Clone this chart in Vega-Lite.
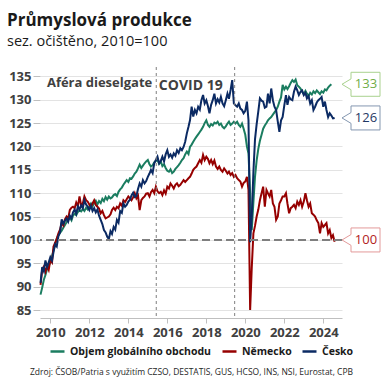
{
  "$schema": "https://vega.github.io/schema/vega-lite/v6.json",
  "width": 302,
  "height": 251,
  "autosize": {"type": "none"},
  "padding": {"left": 40, "top": 67, "right": 48, "bottom": 72},
  "background": "white",
  "config": {
    "font": "Open Sans",
    "view": {"stroke": null},
    "axis": {"labelOverlap": false},
    "axisY": {
      "labelOverlap": false,
      "grid": true,
      "gridColor": "#e3e3e3",
      "domain": false,
      "tickColor": "#bfbfbf",
      "tickSize": 7,
      "labelPadding": 2,
      "labelFontSize": 13,
      "labelFontWeight": "bold",
      "labelColor": "#404040"
    }
  },
  "title": {
    "text": "Průmyslová produkce",
    "subtitle": "sez. očištěno, 2010=100",
    "anchor": "start",
    "frame": "group",
    "dx": -33,
    "offset": 17,
    "fontSize": 17,
    "fontWeight": "bold",
    "color": "#1a1a1a",
    "subtitleFontSize": 14.5,
    "subtitleColor": "#1a1a1a",
    "subtitlePadding": 5
  },
  "datasets": {
    "prod": [
      {"d":"2009-07-01","obchod":88.3,"nemecko":90.4,"cesko":90.8},
      {"d":"2009-08-01","obchod":89.8,"nemecko":93.6,"cesko":94.2},
      {"d":"2009-09-01","obchod":91.5,"nemecko":94.3,"cesko":93.3},
      {"d":"2009-10-01","obchod":92.5,"nemecko":93.2,"cesko":95.6},
      {"d":"2009-11-01","obchod":93.8,"nemecko":94.4,"cesko":94.2},
      {"d":"2009-12-01","obchod":94.5,"nemecko":93.6,"cesko":95.2},
      {"d":"2010-01-01","obchod":95.2,"nemecko":95.7,"cesko":96.3},
      {"d":"2010-02-01","obchod":96.5,"nemecko":95.2,"cesko":95.6},
      {"d":"2010-03-01","obchod":97.8,"nemecko":98.6,"cesko":97.4},
      {"d":"2010-04-01","obchod":99.0,"nemecko":99.4,"cesko":99.1},
      {"d":"2010-05-01","obchod":100.3,"nemecko":100.3,"cesko":98.6},
      {"d":"2010-06-01","obchod":101.0,"nemecko":101.4,"cesko":100.8},
      {"d":"2010-07-01","obchod":101.5,"nemecko":102.2,"cesko":101.6},
      {"d":"2010-08-01","obchod":102.0,"nemecko":103.6,"cesko":104.4},
      {"d":"2010-09-01","obchod":102.6,"nemecko":103.1,"cesko":103.5},
      {"d":"2010-10-01","obchod":103.2,"nemecko":104.4,"cesko":104.1},
      {"d":"2010-11-01","obchod":103.8,"nemecko":105.0,"cesko":104.6},
      {"d":"2010-12-01","obchod":104.3,"nemecko":104.6,"cesko":103.9},
      {"d":"2011-01-01","obchod":104.8,"nemecko":106.4,"cesko":105.2},
      {"d":"2011-02-01","obchod":104.2,"nemecko":106.9,"cesko":104.6},
      {"d":"2011-03-01","obchod":105.2,"nemecko":107.1,"cesko":105.9},
      {"d":"2011-04-01","obchod":105.6,"nemecko":106.8,"cesko":106.5},
      {"d":"2011-05-01","obchod":105.3,"nemecko":108.0,"cesko":105.6},
      {"d":"2011-06-01","obchod":106.0,"nemecko":107.2,"cesko":107.2},
      {"d":"2011-07-01","obchod":106.3,"nemecko":109.3,"cesko":106.5},
      {"d":"2011-08-01","obchod":106.1,"nemecko":107.4,"cesko":107.4},
      {"d":"2011-09-01","obchod":106.6,"nemecko":107.8,"cesko":106.8},
      {"d":"2011-10-01","obchod":106.2,"nemecko":109.3,"cesko":108.5},
      {"d":"2011-11-01","obchod":106.9,"nemecko":108.5,"cesko":107.6},
      {"d":"2011-12-01","obchod":106.5,"nemecko":108.2,"cesko":107.1},
      {"d":"2012-01-01","obchod":107.2,"nemecko":107.6,"cesko":106.4},
      {"d":"2012-02-01","obchod":107.8,"nemecko":107.1,"cesko":107.3},
      {"d":"2012-03-01","obchod":107.2,"nemecko":107.8,"cesko":106.2},
      {"d":"2012-04-01","obchod":107.9,"nemecko":108.5,"cesko":106.8},
      {"d":"2012-05-01","obchod":108.4,"nemecko":107.5,"cesko":105.9},
      {"d":"2012-06-01","obchod":107.6,"nemecko":107.1,"cesko":106.5},
      {"d":"2012-07-01","obchod":108.3,"nemecko":106.7,"cesko":105.2},
      {"d":"2012-08-01","obchod":107.9,"nemecko":105.7,"cesko":104.3},
      {"d":"2012-09-01","obchod":108.8,"nemecko":106.2,"cesko":103.4},
      {"d":"2012-10-01","obchod":108.3,"nemecko":105.3,"cesko":102.1},
      {"d":"2012-11-01","obchod":109.2,"nemecko":104.6,"cesko":101.6},
      {"d":"2012-12-01","obchod":108.6,"nemecko":104.8,"cesko":100.7},
      {"d":"2013-01-01","obchod":109.3,"nemecko":105.0,"cesko":100.2},
      {"d":"2013-02-01","obchod":108.9,"nemecko":105.5,"cesko":101.9},
      {"d":"2013-03-01","obchod":109.1,"nemecko":106.4,"cesko":101.3},
      {"d":"2013-04-01","obchod":109.6,"nemecko":106.9,"cesko":102.8},
      {"d":"2013-05-01","obchod":109.8,"nemecko":106.4,"cesko":102.2},
      {"d":"2013-06-01","obchod":109.4,"nemecko":107.1,"cesko":104.3},
      {"d":"2013-07-01","obchod":110.3,"nemecko":106.8,"cesko":103.7},
      {"d":"2013-08-01","obchod":110.8,"nemecko":107.8,"cesko":106.2},
      {"d":"2013-09-01","obchod":111.2,"nemecko":107.3,"cesko":105.8},
      {"d":"2013-10-01","obchod":111.8,"nemecko":108.5,"cesko":107.8},
      {"d":"2013-11-01","obchod":112.3,"nemecko":108.1,"cesko":107.1},
      {"d":"2013-12-01","obchod":112.8,"nemecko":108.7,"cesko":107.5},
      {"d":"2014-01-01","obchod":112.4,"nemecko":109.3,"cesko":108.2},
      {"d":"2014-02-01","obchod":113.2,"nemecko":108.9,"cesko":108.6},
      {"d":"2014-03-01","obchod":113.1,"nemecko":108.5,"cesko":109.5},
      {"d":"2014-04-01","obchod":113.6,"nemecko":109.1,"cesko":110.1},
      {"d":"2014-05-01","obchod":114.2,"nemecko":110.0,"cesko":109.2},
      {"d":"2014-06-01","obchod":114.6,"nemecko":108.9,"cesko":109.4},
      {"d":"2014-07-01","obchod":115.3,"nemecko":109.5,"cesko":110.9},
      {"d":"2014-08-01","obchod":116.1,"nemecko":106.4,"cesko":112.1},
      {"d":"2014-09-01","obchod":115.4,"nemecko":108.5,"cesko":111.4},
      {"d":"2014-10-01","obchod":115.9,"nemecko":109.0,"cesko":112.8},
      {"d":"2014-11-01","obchod":116.4,"nemecko":109.3,"cesko":112.1},
      {"d":"2014-12-01","obchod":116.8,"nemecko":109.9,"cesko":112.6},
      {"d":"2015-01-01","obchod":117.1,"nemecko":110.0,"cesko":113.5},
      {"d":"2015-02-01","obchod":116.2,"nemecko":109.3,"cesko":114.2},
      {"d":"2015-03-01","obchod":115.7,"nemecko":110.2,"cesko":115.0},
      {"d":"2015-04-01","obchod":116.0,"nemecko":110.7,"cesko":114.3},
      {"d":"2015-05-01","obchod":116.6,"nemecko":110.0,"cesko":116.4},
      {"d":"2015-06-01","obchod":116.9,"nemecko":111.4,"cesko":117.1},
      {"d":"2015-07-01","obchod":117.1,"nemecko":110.4,"cesko":117.8},
      {"d":"2015-08-01","obchod":116.3,"nemecko":110.0,"cesko":116.4},
      {"d":"2015-09-01","obchod":116.8,"nemecko":110.3,"cesko":116.9},
      {"d":"2015-10-01","obchod":115.8,"nemecko":109.6,"cesko":117.8},
      {"d":"2015-11-01","obchod":116.2,"nemecko":110.6,"cesko":116.8},
      {"d":"2015-12-01","obchod":115.4,"nemecko":109.9,"cesko":118.3},
      {"d":"2016-01-01","obchod":114.8,"nemecko":111.4,"cesko":119.2},
      {"d":"2016-02-01","obchod":114.6,"nemecko":111.0,"cesko":117.8},
      {"d":"2016-03-01","obchod":115.1,"nemecko":112.1,"cesko":118.3},
      {"d":"2016-04-01","obchod":114.3,"nemecko":111.6,"cesko":117.6},
      {"d":"2016-05-01","obchod":114.6,"nemecko":111.0,"cesko":118.5},
      {"d":"2016-06-01","obchod":115.2,"nemecko":111.8,"cesko":118.0},
      {"d":"2016-07-01","obchod":115.6,"nemecko":112.1,"cesko":119.2},
      {"d":"2016-08-01","obchod":116.0,"nemecko":111.5,"cesko":118.6},
      {"d":"2016-09-01","obchod":116.5,"nemecko":111.8,"cesko":119.6},
      {"d":"2016-10-01","obchod":117.1,"nemecko":112.3,"cesko":119.2},
      {"d":"2016-11-01","obchod":117.5,"nemecko":112.8,"cesko":119.9},
      {"d":"2016-12-01","obchod":118.3,"nemecko":112.4,"cesko":121.0},
      {"d":"2017-01-01","obchod":118.9,"nemecko":112.8,"cesko":122.8},
      {"d":"2017-02-01","obchod":118.4,"nemecko":113.2,"cesko":124.2},
      {"d":"2017-03-01","obchod":119.9,"nemecko":113.5,"cesko":125.6},
      {"d":"2017-04-01","obchod":120.4,"nemecko":114.2,"cesko":128.5},
      {"d":"2017-05-01","obchod":121.0,"nemecko":115.0,"cesko":126.4},
      {"d":"2017-06-01","obchod":121.6,"nemecko":115.4,"cesko":127.8},
      {"d":"2017-07-01","obchod":122.1,"nemecko":115.7,"cesko":127.1},
      {"d":"2017-08-01","obchod":122.6,"nemecko":116.4,"cesko":128.5},
      {"d":"2017-09-01","obchod":123.1,"nemecko":117.1,"cesko":127.9},
      {"d":"2017-10-01","obchod":123.6,"nemecko":116.5,"cesko":129.9},
      {"d":"2017-11-01","obchod":124.2,"nemecko":118.2,"cesko":131.0},
      {"d":"2017-12-01","obchod":125.0,"nemecko":117.1,"cesko":129.2},
      {"d":"2018-01-01","obchod":125.6,"nemecko":117.8,"cesko":129.9},
      {"d":"2018-02-01","obchod":124.6,"nemecko":117.3,"cesko":128.6},
      {"d":"2018-03-01","obchod":124.2,"nemecko":116.4,"cesko":127.1},
      {"d":"2018-04-01","obchod":124.8,"nemecko":117.1,"cesko":128.9},
      {"d":"2018-05-01","obchod":124.5,"nemecko":116.2,"cesko":129.9},
      {"d":"2018-06-01","obchod":125.1,"nemecko":117.0,"cesko":131.3},
      {"d":"2018-07-01","obchod":124.9,"nemecko":115.7,"cesko":129.2},
      {"d":"2018-08-01","obchod":125.3,"nemecko":115.2,"cesko":130.1},
      {"d":"2018-09-01","obchod":124.6,"nemecko":115.7,"cesko":129.4},
      {"d":"2018-10-01","obchod":124.9,"nemecko":115.0,"cesko":130.6},
      {"d":"2018-11-01","obchod":124.2,"nemecko":114.6,"cesko":129.2},
      {"d":"2018-12-01","obchod":123.9,"nemecko":115.3,"cesko":128.6},
      {"d":"2019-01-01","obchod":124.3,"nemecko":114.8,"cesko":129.9},
      {"d":"2019-02-01","obchod":124.9,"nemecko":114.2,"cesko":131.3},
      {"d":"2019-03-01","obchod":125.3,"nemecko":114.6,"cesko":130.2},
      {"d":"2019-04-01","obchod":124.6,"nemecko":113.9,"cesko":132.1},
      {"d":"2019-05-01","obchod":124.9,"nemecko":114.3,"cesko":134.2},
      {"d":"2019-06-01","obchod":125.3,"nemecko":113.5,"cesko":129.2},
      {"d":"2019-07-01","obchod":124.9,"nemecko":113.9,"cesko":128.8},
      {"d":"2019-08-01","obchod":125.3,"nemecko":113.2,"cesko":128.5},
      {"d":"2019-09-01","obchod":124.6,"nemecko":112.8,"cesko":129.2},
      {"d":"2019-10-01","obchod":124.2,"nemecko":112.5,"cesko":128.1},
      {"d":"2019-11-01","obchod":124.9,"nemecko":111.4,"cesko":127.8},
      {"d":"2019-12-01","obchod":123.8,"nemecko":112.2,"cesko":127.1},
      {"d":"2020-01-01","obchod":122.5,"nemecko":112.5,"cesko":127.6},
      {"d":"2020-02-01","obchod":120.0,"nemecko":113.5,"cesko":129.6},
      {"d":"2020-03-01","obchod":118.5,"nemecko":110.7,"cesko":125.6},
      {"d":"2020-04-01","obchod":110.0,"nemecko":85.0,"cesko":99.5},
      {"d":"2020-05-01","obchod":102.1,"nemecko":94.0,"cesko":105.0},
      {"d":"2020-06-01","obchod":108.0,"nemecko":101.4,"cesko":114.5},
      {"d":"2020-07-01","obchod":113.5,"nemecko":103.0,"cesko":121.5},
      {"d":"2020-08-01","obchod":117.0,"nemecko":105.0,"cesko":124.8},
      {"d":"2020-09-01","obchod":119.5,"nemecko":106.5,"cesko":127.5},
      {"d":"2020-10-01","obchod":121.2,"nemecko":108.5,"cesko":130.3},
      {"d":"2020-11-01","obchod":122.5,"nemecko":110.0,"cesko":129.8},
      {"d":"2020-12-01","obchod":123.8,"nemecko":111.4,"cesko":129.6},
      {"d":"2021-01-01","obchod":124.5,"nemecko":107.1,"cesko":128.3},
      {"d":"2021-02-01","obchod":125.0,"nemecko":110.7,"cesko":128.5},
      {"d":"2021-03-01","obchod":125.6,"nemecko":110.0,"cesko":131.3},
      {"d":"2021-04-01","obchod":126.0,"nemecko":109.3,"cesko":129.2},
      {"d":"2021-05-01","obchod":126.3,"nemecko":110.7,"cesko":132.4},
      {"d":"2021-06-01","obchod":126.8,"nemecko":107.8,"cesko":129.9},
      {"d":"2021-07-01","obchod":127.3,"nemecko":107.1,"cesko":128.5},
      {"d":"2021-08-01","obchod":127.8,"nemecko":104.3,"cesko":127.8},
      {"d":"2021-09-01","obchod":128.5,"nemecko":105.0,"cesko":125.3},
      {"d":"2021-10-01","obchod":129.6,"nemecko":107.8,"cesko":123.1},
      {"d":"2021-11-01","obchod":130.5,"nemecko":108.5,"cesko":125.6},
      {"d":"2021-12-01","obchod":133.2,"nemecko":109.3,"cesko":126.3},
      {"d":"2022-01-01","obchod":132.2,"nemecko":109.3,"cesko":128.8},
      {"d":"2022-02-01","obchod":132.8,"nemecko":110.0,"cesko":131.0},
      {"d":"2022-03-01","obchod":132.3,"nemecko":107.8,"cesko":128.9},
      {"d":"2022-04-01","obchod":132.9,"nemecko":105.7,"cesko":130.6},
      {"d":"2022-05-01","obchod":133.6,"nemecko":106.8,"cesko":130.1},
      {"d":"2022-06-01","obchod":134.2,"nemecko":107.1,"cesko":129.9},
      {"d":"2022-07-01","obchod":133.8,"nemecko":107.5,"cesko":131.7},
      {"d":"2022-08-01","obchod":134.3,"nemecko":106.8,"cesko":132.8},
      {"d":"2022-09-01","obchod":133.1,"nemecko":108.2,"cesko":132.0},
      {"d":"2022-10-01","obchod":132.8,"nemecko":107.5,"cesko":131.0},
      {"d":"2022-11-01","obchod":132.4,"nemecko":108.5,"cesko":131.7},
      {"d":"2022-12-01","obchod":131.7,"nemecko":107.1,"cesko":132.0},
      {"d":"2023-01-01","obchod":131.2,"nemecko":108.2,"cesko":131.0},
      {"d":"2023-02-01","obchod":131.9,"nemecko":110.0,"cesko":131.5},
      {"d":"2023-03-01","obchod":131.3,"nemecko":108.5,"cesko":130.3},
      {"d":"2023-04-01","obchod":130.8,"nemecko":107.1,"cesko":130.8},
      {"d":"2023-05-01","obchod":131.5,"nemecko":107.8,"cesko":129.2},
      {"d":"2023-06-01","obchod":131.1,"nemecko":105.7,"cesko":129.9},
      {"d":"2023-07-01","obchod":131.8,"nemecko":105.4,"cesko":127.8},
      {"d":"2023-08-01","obchod":131.4,"nemecko":105.0,"cesko":128.5},
      {"d":"2023-09-01","obchod":132.0,"nemecko":104.2,"cesko":129.4},
      {"d":"2023-10-01","obchod":131.6,"nemecko":103.6,"cesko":129.9},
      {"d":"2023-11-01","obchod":131.2,"nemecko":101.4,"cesko":130.2},
      {"d":"2023-12-01","obchod":131.8,"nemecko":103.6,"cesko":130.6},
      {"d":"2024-01-01","obchod":131.5,"nemecko":102.8,"cesko":128.5},
      {"d":"2024-02-01","obchod":132.2,"nemecko":103.2,"cesko":129.6},
      {"d":"2024-03-01","obchod":132.0,"nemecko":103.6,"cesko":127.8},
      {"d":"2024-04-01","obchod":132.6,"nemecko":101.4,"cesko":126.3},
      {"d":"2024-05-01","obchod":133.0,"nemecko":102.1,"cesko":127.1},
      {"d":"2024-06-01","obchod":133.3,"nemecko":100.4,"cesko":126.6},
      {"d":"2024-07-01","nemecko":101.0,"cesko":126.0},
      {"d":"2024-08-01","nemecko":99.6,"cesko":126.1}
    ],
    "udalosti": [
      {"d": "2015-06-08", "txt": "Aféra dieselgate", "v": 133.5},
      {"d": "2019-06-16", "txt": "COVID 19", "v": 132.9}
    ],
    "posledni": [
      {"serie": "obchod", "lab": "133", "v": 133.3},
      {"serie": "cesko", "lab": "126", "v": 126.1},
      {"serie": "nemecko", "lab": "100", "v": 100}
    ],
    "zaklad": [{"ref": 100}]
  },
  "layer": [
    {
      "data": {"name": "prod"},
      "transform": [{"fold": ["obchod", "nemecko", "cesko"], "as": ["serie", "hodnota"]}],
      "mark": {"type": "line", "strokeWidth": 2},
      "encoding": {
        "x": {
          "field": "d",
          "type": "temporal",
          "title": "Zdroj: ČSOB/Patria s využitím CZSO, DESTATIS, GUS, HCSO, INS, NSI, Eurostat, CPB",
          "scale": {"type": "utc", "domain": [{"year": 2009, "month": 6, "date": 21, "utc": true}, {"year": 2024, "month": 12, "date": 17, "utc": true}]},
          "axis": {
            "grid": false,
            "tickCount": {"interval": "year", "step": 2},
            "format": "%Y",
            "domainColor": "#bfbfbf",
            "tickColor": "#bfbfbf",
            "tickSize": 5,
            "labelFontSize": 13,
            "labelFontWeight": "bold",
            "labelColor": "#404040",
            "labelPadding": 3,
            "titleFontSize": 8.5,
            "titleFontWeight": "normal",
            "titleColor": "#262626",
            "titlePadding": 28,
            "titleDx": 12
          }
        },
        "y": {
          "field": "hodnota",
          "type": "quantitative",
          "title": null,
          "scale": {"domain": [83.3, 137], "nice": false, "zero": false},
          "axis": {
            "tickCount": 11,
            "labelOverlap": false,
            "labelSeparation": 0
          }
        },
        "color": {
          "field": "serie",
          "type": "nominal",
          "scale": {"domain": ["obchod", "nemecko", "cesko"], "range": ["#1b7d60", "#960000", "#0b2a63"]},
          "legend": {
            "title": null,
            "orient": "none",
            "legendX": 9,
            "legendY": 276,
            "direction": "horizontal",
            "symbolType": "stroke",
            "symbolSize": 196,
            "symbolStrokeWidth": 2.5,
            "labelFontSize": 10.5,
            "labelFontWeight": "bold",
            "labelColor": "#1a1a1a",
            "labelOffset": 4,
            "labelLimit": 0,
            "columnPadding": 5,
            "labelExpr": "datum.label == 'obchod' ? 'Objem globálního obchodu' : datum.label == 'nemecko' ? 'Německo' : 'Česko'"
          }
        }
      }
    },
    {
      "data": {"name": "zaklad"},
      "mark": {"type": "rule", "color": "#7f7f7f", "strokeWidth": 2, "strokeDash": [8, 4]},
      "encoding": {
        "y": {"field": "ref", "type": "quantitative", "title": null}
      }
    },
    {
      "data": {"name": "udalosti"},
      "mark": {"type": "rule", "color": "#7f7f7f", "strokeWidth": 1, "strokeDash": [3, 3]},
      "encoding": {
        "x": {"field": "d", "type": "temporal", "title": "Zdroj: ČSOB/Patria s využitím CZSO, DESTATIS, GUS, HCSO, INS, NSI, Eurostat, CPB"}
      }
    },
    {
      "data": {"name": "udalosti"},
      "transform": [{"filter": "datum.txt == 'Aféra dieselgate'"}],
      "mark": {"type": "text", "align": "right", "baseline": "middle", "dx": -4, "fontSize": 13, "fontWeight": "bold", "color": "#404040"},
      "encoding": {
        "x": {"field": "d", "type": "temporal", "title": "Zdroj: ČSOB/Patria s využitím CZSO, DESTATIS, GUS, HCSO, INS, NSI, Eurostat, CPB"},
        "y": {"field": "v", "type": "quantitative", "title": null},
        "text": {"field": "txt"}
      }
    },
    {
      "data": {"name": "udalosti"},
      "transform": [{"filter": "datum.txt == 'COVID 19'"}],
      "mark": {"type": "text", "align": "right", "baseline": "middle", "dx": -12, "fontSize": 14, "fontWeight": "bold", "color": "#404040"},
      "encoding": {
        "x": {"field": "d", "type": "temporal", "title": "Zdroj: ČSOB/Patria s využitím CZSO, DESTATIS, GUS, HCSO, INS, NSI, Eurostat, CPB"},
        "y": {"field": "v", "type": "quantitative", "title": null},
        "text": {"field": "txt"}
      }
    },
    {
      "data": {"name": "posledni"},
      "mark": {"type": "point", "shape": "M0,0L0.45,-0.27L0.45,-0.6L1.9,-0.6L1.9,0.6L0.45,0.6L0.45,0.27Z", "size": 1600, "filled": true, "fill": "white", "strokeWidth": 1, "opacity": 1},
      "encoding": {
        "x": {"value": "width"},
        "y": {"field": "v", "type": "quantitative", "title": null},
        "stroke": {"field": "serie", "type": "nominal", "scale": {"domain": ["obchod", "nemecko", "cesko"], "range": ["#a9d18e", "#e39a9a", "#8497b0"]}, "legend": null}
      }
    },
    {
      "data": {"name": "posledni"},
      "mark": {"type": "text", "align": "center", "baseline": "middle", "dx": 24, "fontSize": 13},
      "encoding": {
        "x": {"value": "width"},
        "y": {"field": "v", "type": "quantitative", "title": null},
        "text": {"field": "lab"},
        "fill": {"field": "serie", "type": "nominal", "scale": {"domain": ["obchod", "nemecko", "cesko"], "range": ["#70ad47", "#b22222", "#1f3864"]}, "legend": null}
      }
    }
  ]
}
